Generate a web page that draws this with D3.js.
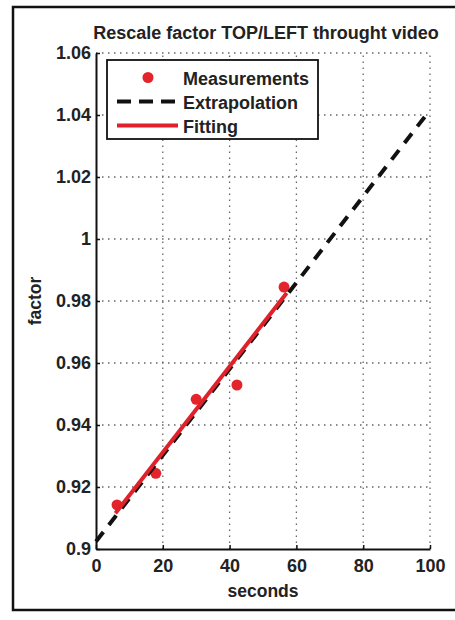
<!DOCTYPE html>
<html>
<head>
<meta charset="utf-8">
<script src="https://cdn.jsdelivr.net/npm/d3@7"></script>
<style>
  body { margin: 0; background: #fff; }
  text { font-family: "Liberation Sans", Arial, Helvetica, sans-serif; font-weight: bold; fill: #222; }
</style>
</head>
<body>
<script>
// chart size
var w = 455;
var h = 620;

// data
var measSeconds = [6.3, 17.9, 30.0, 42.2, 56.3];
var measFactor = [0.9142, 0.9244, 0.9483, 0.9529, 0.9845];

var fitSeconds = [5.8, 57.1];
var fitFactor = [0.9115, 0.9826];

var extraSeconds = [0, 100];
var extraFactor = [0.9024, 1.0416];

var xTicks = [0, 20, 40, 60, 80, 100];
var yTicks = [0.9, 0.92, 0.94, 0.96, 0.98, 1, 1.02, 1.04, 1.06];
var yTickLabels = ["0.9", "0.92", "0.94", "0.96", "0.98", "1", "1.02", "1.04", "1.06"];

var legendNames = ["Measurements", "Extrapolation", "Fitting"];

var svg = d3.select("body")
            .append("svg")
            .attr("width", w)
            .attr("height", h);

// outer frame of the scanned figure
svg.append("rect")
    .attr("x", 13)
    .attr("y", 7)
    .attr("width", 470)
    .attr("height", 603)
    .attr("fill", "none")
    .attr("stroke", "#111")
    .attr("stroke-width", 2.5);

var x = d3.scaleLinear().domain([0, 100]).range([96, 430]);
var y = d3.scaleLinear().domain([0.9, 1.06]).range([549, 53]);

// dotted grid
var grid = svg.append("g");
grid.selectAll(".vgrid")
    .data(xTicks.slice(1))
    .enter()
    .append("line")
    .attr("x1", function(d) { return x(d); })
    .attr("x2", function(d) { return x(d); })
    .attr("y1", y(0.9))
    .attr("y2", y(1.06));
grid.selectAll(".hgrid")
    .data(yTicks.slice(1))
    .enter()
    .append("line")
    .attr("x1", x(0))
    .attr("x2", x(100))
    .attr("y1", function(d) { return y(d); })
    .attr("y2", function(d) { return y(d); });
grid.selectAll("line")
    .attr("stroke", "#666")
    .attr("stroke-width", 1.3)
    .attr("stroke-dasharray", "1.5,4.5");

// axes (ticks inside, like matlab)
var xAxis = d3.axisBottom(x)
    .tickValues(xTicks)
    .tickFormat(d3.format("d"))
    .tickSizeInner(-4)
    .tickSizeOuter(0)
    .tickPadding(10);

var yAxis = d3.axisLeft(y)
    .tickValues(yTicks)
    .tickFormat(function(d, i) { return yTickLabels[i]; })
    .tickSizeInner(-4)
    .tickSizeOuter(0)
    .tickPadding(5);

var gx = svg.append("g")
    .attr("transform", "translate(0," + y(0.9) + ")")
    .call(xAxis);
var gy = svg.append("g")
    .attr("transform", "translate(" + x(0) + ",0)")
    .call(yAxis);

[gx, gy].forEach(function(g) {
    g.select(".domain").attr("stroke", "#111").attr("stroke-width", 2);
    g.selectAll(".tick line").attr("stroke", "#111").attr("stroke-width", 1.5);
    g.selectAll("text")
        .attr("font-family", null)
        .attr("font-size", "18px")
        .attr("fill", "#222");
});

// measurements
svg.selectAll(".meas")
    .data(measSeconds)
    .enter()
    .append("circle")
    .attr("cx", function(d) { return x(d); })
    .attr("cy", function(d, i) { return y(measFactor[i]); })
    .attr("r", 5.5)
    .attr("fill", "#e3242b");

// extrapolation
var line = d3.line()
    .x(function(d) { return x(d[0]); })
    .y(function(d) { return y(d[1]); });

svg.append("path")
    .datum(d3.zip(extraSeconds, extraFactor))
    .attr("d", line)
    .attr("fill", "none")
    .attr("stroke", "#111")
    .attr("stroke-width", 4)
    .attr("stroke-dasharray", "12,9");

// fitting
svg.append("path")
    .datum(d3.zip(fitSeconds, fitFactor))
    .attr("d", line)
    .attr("fill", "none")
    .attr("stroke", "#e0202a")
    .attr("stroke-width", 4);

// title and labels
svg.append("text")
    .attr("x", 266)
    .attr("y", 39)
    .attr("text-anchor", "middle")
    .attr("font-size", "18px")
    .text("Rescale factor TOP/LEFT throught video");

svg.append("text")
    .attr("x", 263)
    .attr("y", 597)
    .attr("text-anchor", "middle")
    .attr("font-size", "17.5px")
    .text("seconds");

svg.append("text")
    .attr("transform", "translate(41,301) rotate(-90)")
    .attr("text-anchor", "middle")
    .attr("font-size", "17.5px")
    .text("factor");

// legend
var legend = svg.append("g");
legend.append("rect")
    .attr("x", 107)
    .attr("y", 60)
    .attr("width", 211)
    .attr("height", 79)
    .attr("fill", "#fff")
    .attr("stroke", "#111")
    .attr("stroke-width", 1.8);

var rowY = [77.5, 101.5, 125.5];

legend.append("circle")
    .attr("cx", 148)
    .attr("cy", rowY[0])
    .attr("r", 5.5)
    .attr("fill", "#e3242b");

legend.append("line")
    .attr("x1", 117).attr("x2", 179)
    .attr("y1", rowY[1]).attr("y2", rowY[1])
    .attr("stroke", "#111")
    .attr("stroke-width", 4)
    .attr("stroke-dasharray", "14,8");

legend.append("line")
    .attr("x1", 117).attr("x2", 178)
    .attr("y1", rowY[2]).attr("y2", rowY[2])
    .attr("stroke", "#e0202a")
    .attr("stroke-width", 4);

legend.selectAll(".lbl")
    .data(legendNames)
    .enter()
    .append("text")
    .attr("x", 183)
    .attr("y", function(d, i) { return rowY[i] + 7; })
    .attr("font-size", "18px")
    .text(function(d) { return d; });
</script>
</body>
</html>
